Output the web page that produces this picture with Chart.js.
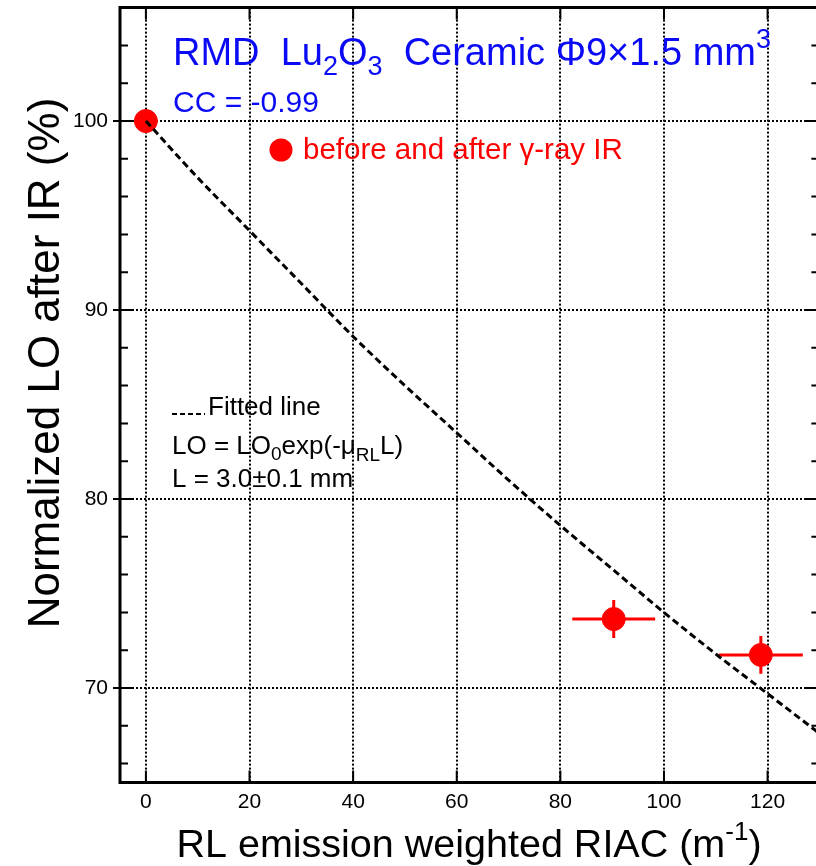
<!DOCTYPE html>
<html>
<head>
<meta charset="utf-8">
<script src="https://cdn.jsdelivr.net/npm/chart.js@4.4.1/dist/chart.umd.min.js"></script>
<style>
  html, body { margin: 0; padding: 0; background: #fff; overflow: hidden; }
  #wrap { width: 824px; height: 866px; }
</style>
</head>
<body>
<div id="wrap"><canvas id="riacChart" width="824" height="866"></canvas></div>
<script>
// Data
const pointX = [0, 90.3, 118.7];
const pointY = [100, 73.65, 71.75];
const pointXErr = [0, 8.0, 8.1];
const pointYErr = [0, 1.0, 1.0];

// fitted exponential, read at every 10 m^-1
const fitX = [0, 10, 20, 30, 40, 50, 60, 70, 80, 90, 100, 110, 120, 130];
const fitY = [100, 97.0, 94.2, 91.4, 88.6, 86.0, 83.5, 81.0, 78.6, 76.3, 74.0, 71.8, 69.7, 67.6];

const xTicks = [0, 20, 40, 60, 80, 100, 120];
const yTicks = [70, 80, 90, 100];
const yMinorTicks = [66, 68, 72, 74, 76, 78, 82, 84, 86, 88, 92, 94, 96, 98, 102, 104];

const FONT = "'Liberation Sans', Arial, Helvetica, sans-serif";
const BLUE = "#0a0af5";
const RED = "#ff0000";

// draw a run of text pieces with sub/superscripts
function richText(ctx, x, y, parts, color) {
  ctx.save();
  ctx.fillStyle = color;
  ctx.textBaseline = "alphabetic";
  ctx.textAlign = "left";
  parts.forEach(p => {
    ctx.font = p.size + "px " + FONT;
    ctx.fillText(p.t, x, y + (p.dy || 0));
    x += ctx.measureText(p.t).width;
  });
  ctx.restore();
  return x;
}

function richWidth(ctx, parts) {
  let w = 0;
  parts.forEach(p => {
    ctx.font = p.size + "px " + FONT;
    w += ctx.measureText(p.t).width;
  });
  return w;
}

const decor = {
  id: "decor",
  beforeDatasetsDraw(chart) {
    const ctx = chart.ctx;
    const xs = chart.scales.x, ys = chart.scales.y;
    // error bars
    ctx.save();
    ctx.strokeStyle = RED;
    ctx.lineWidth = 3;
    for (let i = 0; i < pointX.length; i++) {
      if (!pointXErr[i] && !pointYErr[i]) continue;
      const cx = xs.getPixelForValue(pointX[i]);
      const cy = ys.getPixelForValue(pointY[i]);
      ctx.beginPath();
      ctx.moveTo(xs.getPixelForValue(pointX[i] - pointXErr[i]), cy);
      ctx.lineTo(xs.getPixelForValue(pointX[i] + pointXErr[i]), cy);
      ctx.moveTo(cx, ys.getPixelForValue(pointY[i] - pointYErr[i]));
      ctx.lineTo(cx, ys.getPixelForValue(pointY[i] + pointYErr[i]));
      ctx.stroke();
    }
    ctx.restore();
  },
  afterDraw(chart) {
    const ctx = chart.ctx;
    const a = chart.chartArea;
    const xs = chart.scales.x, ys = chart.scales.y;

    // frame
    ctx.save();
    ctx.strokeStyle = "#000";
    ctx.lineWidth = 3;
    ctx.beginPath();
    ctx.moveTo(a.left, a.top);
    ctx.lineTo(a.left, a.bottom);
    ctx.lineTo(a.right, a.bottom);
    ctx.lineTo(a.right, a.top);
    ctx.closePath();
    ctx.stroke();

    // ticks
    ctx.lineWidth = 2;
    ctx.beginPath();
    yTicks.forEach(v => {
      const py = ys.getPixelForValue(v);
      ctx.moveTo(a.left - 7, py); ctx.lineTo(a.left + 14, py);
      ctx.moveTo(a.right - 14, py); ctx.lineTo(a.right, py);
    });
    yMinorTicks.forEach(v => {
      const py = ys.getPixelForValue(v);
      ctx.moveTo(a.left, py); ctx.lineTo(a.left + 8, py);
      ctx.moveTo(a.right - 8, py); ctx.lineTo(a.right, py);
    });
    xTicks.forEach(v => {
      const px = xs.getPixelForValue(v);
      ctx.moveTo(px, a.bottom); ctx.lineTo(px, a.bottom - 12);
      ctx.moveTo(px, a.top); ctx.lineTo(px, a.top + 12);
    });
    ctx.stroke();

    // tick labels from the scales
    ctx.fillStyle = "#000";
    ctx.font = "21px " + FONT;
    ctx.textAlign = "center";
    ctx.textBaseline = "middle";
    xs.ticks.forEach(t => ctx.fillText(String(t.value), xs.getPixelForValue(t.value), a.bottom + 20));
    ctx.textAlign = "right";
    ys.ticks.forEach(t => ctx.fillText(String(t.value), a.left - 12, ys.getPixelForValue(t.value)));
    ctx.restore();

    // title and annotations
    richText(ctx, 173, 65, [
      { t: "RMD  Lu", size: 38 },
      { t: "2", size: 27, dy: 10 },
      { t: "O", size: 38 },
      { t: "3", size: 27, dy: 10 },
      { t: "  Ceramic \u03A69\u00D71.5 mm", size: 38 },
      { t: "3", size: 27, dy: -17 }
    ], BLUE);
    richText(ctx, 173, 112, [{ t: "CC = -0.99", size: 30 }], BLUE);

    ctx.save();
    ctx.fillStyle = RED;
    ctx.beginPath();
    ctx.arc(281, 150, 11.5, 0, Math.PI * 2);
    ctx.fill();
    ctx.restore();
    richText(ctx, 303, 159, [{ t: "before and after \u03B3-ray IR", size: 29.5 }], RED);

    ctx.save();
    ctx.strokeStyle = "#000";
    ctx.lineWidth = 2;
    ctx.setLineDash([5, 3]);
    ctx.beginPath();
    ctx.moveTo(172, 414);
    ctx.lineTo(205, 414);
    ctx.stroke();
    ctx.restore();
    richText(ctx, 208, 415, [{ t: "Fitted line", size: 26 }], "#000");
    richText(ctx, 172, 454, [
      { t: "LO = LO", size: 26 },
      { t: "0", size: 19, dy: 6 },
      { t: "exp(-\u03BC", size: 26 },
      { t: "RL", size: 19, dy: 7 },
      { t: "L)", size: 26 }
    ], "#000");
    richText(ctx, 172, 487, [{ t: "L = 3.0\u00B10.1 mm", size: 26 }], "#000");

    // axis titles
    const xParts = [
      { t: "RL emission weighted RIAC (m", size: 39.5 },
      { t: "-1", size: 26, dy: -17 },
      { t: ")", size: 39.5 }
    ];
    richText(ctx, 469 - richWidth(ctx, xParts) / 2, 857, xParts, "#000");

    ctx.save();
    ctx.translate(59, 363);
    ctx.rotate(-Math.PI / 2);
    ctx.font = "44px " + FONT;
    ctx.fillStyle = "#000";
    ctx.textAlign = "center";
    ctx.textBaseline = "alphabetic";
    ctx.fillText("Normalized LO after IR (%)", 0, 0);
    ctx.restore();
  }
};

const ctx = document.getElementById("riacChart").getContext("2d");
new Chart(ctx, {
  type: "scatter",
  data: {
    datasets: [{
      type: "line",
      label: "Fitted line",
      data: fitX.map((x, i) => ({ x: x, y: fitY[i] })),
      borderColor: "#000",
      borderWidth: 3,
      borderDash: [7, 4],
      pointRadius: 0,
      fill: false,
      cubicInterpolationMode: "monotone"
    }, {
      label: "before and after IR",
      data: pointX.map((x, i) => ({ x: x, y: pointY[i] })),
      backgroundColor: RED,
      borderColor: RED,
      pointRadius: 11.5,
      pointHoverRadius: 11.5
    }]
  },
  options: {
    responsive: false,
    animation: false,
    layout: { autoPadding: false, padding: { left: 0, top: 7.6, right: 4.6, bottom: 0 } },
    plugins: { legend: { display: false }, tooltip: { enabled: false } },
    scales: {
      x: {
        type: "linear",
        min: -5,
        max: 130,
        afterBuildTicks: s => { s.ticks = xTicks.map(v => ({ value: v })); },
        afterFit: s => { s.height = 83.5; },
        grid: { color: "#000", lineWidth: 2, drawTicks: false },
        border: { display: false, dash: [2, 2] },
        ticks: { display: false }
      },
      y: {
        type: "linear",
        min: 65,
        max: 106,
        afterBuildTicks: s => { s.ticks = yTicks.map(v => ({ value: v })); },
        afterFit: s => { s.width = 120; },
        grid: { color: "#000", lineWidth: 2, drawTicks: false },
        border: { display: false, dash: [2, 2] },
        ticks: { display: false }
      }
    }
  },
  plugins: [decor]
});
</script>
</body>
</html>
